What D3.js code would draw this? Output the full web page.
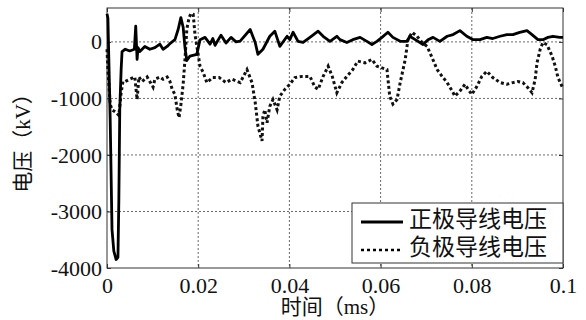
<!DOCTYPE html>
<html>
<head>
<meta charset="utf-8">
<script src="https://cdn.jsdelivr.net/npm/d3@7"></script>
<style>
  body { margin: 0; background: #fff; }
</style>
</head>
<body>
<div id="chart"></div>
<script>
// 正极导线电压 (solid), time in ms, voltage in kV
const posTime = [0, 0.0002, 0.0007, 0.0011, 0.0015, 0.0020, 0.0024, 0.0026, 0.0028, 0.0031,
  0.0033, 0.0040, 0.0050, 0.0060, 0.0063, 0.0066, 0.0068, 0.0072, 0.0083, 0.0094,
  0.0105, 0.0116, 0.0123, 0.0132, 0.0138, 0.0149, 0.0156, 0.0162, 0.0167, 0.0171,
  0.0175, 0.0182, 0.0197, 0.0204, 0.0215, 0.0226, 0.0232, 0.0237, 0.0250, 0.0261,
  0.0272, 0.0283, 0.0292, 0.0314, 0.0325, 0.0331, 0.0342, 0.0357, 0.0368, 0.0379,
  0.0395, 0.0401, 0.0408, 0.0419, 0.0430, 0.0445, 0.0463, 0.0474, 0.0489, 0.0504,
  0.0511, 0.0526, 0.0539, 0.0555, 0.0570, 0.0581, 0.0592, 0.0603, 0.0616, 0.0627,
  0.0643, 0.0658, 0.0664, 0.0676, 0.0693, 0.0704, 0.0715, 0.0730, 0.0746, 0.0759,
  0.0774, 0.0789, 0.0803, 0.0818, 0.0833, 0.0846, 0.0862, 0.0877, 0.0890, 0.0905,
  0.0921, 0.0932, 0.0945, 0.0956, 0.0967, 0.0978, 0.0993, 0.1000];
const posVolt = [500, 420, -1370, -3320, -3700, -3850, -3810, -2790, -1190, -490,
  -170, -130, -160, -130, 280, -310, -100, -170, -80, -130,
  -100, -40, -130, -80, -30, 40, 220, 430, 260, -100,
  -330, -250, -220, 40, 80, -40, 60, -60, 120, -20,
  80, 0, 15, 220, -10, -220, -130, 100, 190, -80,
  100, 40, 170, 10, -10, 80, 190, 100, 10, 100,
  40, -10, 40, 80, 10, -45, 10, 80, 170, 80,
  10, 10, 100, 40, -45, 40, 80, 10, 100, 130,
  200, 100, 40, 40, 80, 60, 100, 130, 130, 170,
  200, 130, 40, 40, 80, 100, 80, 80];

// 负极导线电压 (dotted)
const negTime = [0, 0.0002, 0.0007, 0.0011, 0.0020, 0.0026, 0.0031, 0.0035, 0.0040, 0.0050,
  0.0061, 0.0066, 0.0070, 0.0077, 0.0088, 0.0101, 0.0105, 0.0116, 0.0123, 0.0132,
  0.0138, 0.0143, 0.0149, 0.0154, 0.0158, 0.0162, 0.0167, 0.0171, 0.0175, 0.0180,
  0.0184, 0.0189, 0.0193, 0.0204, 0.0211, 0.0219, 0.0232, 0.0246, 0.0261, 0.0274,
  0.0292, 0.0307, 0.0318, 0.0325, 0.0331, 0.0340, 0.0342, 0.0346, 0.0351, 0.0357,
  0.0364, 0.0373, 0.0379, 0.0390, 0.0401, 0.0412, 0.0428, 0.0445, 0.0456, 0.0463,
  0.0474, 0.0485, 0.0494, 0.0504, 0.0515, 0.0526, 0.0539, 0.0550, 0.0566, 0.0581,
  0.0592, 0.0603, 0.0614, 0.0620, 0.0627, 0.0636, 0.0643, 0.0654, 0.0660, 0.0669,
  0.0680, 0.0691, 0.0702, 0.0713, 0.0724, 0.0735, 0.0746, 0.0757, 0.0763, 0.0774,
  0.0785, 0.0792, 0.0800, 0.0811, 0.0822, 0.0833, 0.0846, 0.0862, 0.0877, 0.0890,
  0.0901, 0.0912, 0.0923, 0.0932, 0.0939, 0.0943, 0.0950, 0.0956, 0.0965, 0.0976,
  0.0983, 0.0989, 0.0998];
const negVolt = [-130, -490, -1100, -1200, -1250, -1300, -900, -700, -700, -660,
  -620, -1020, -620, -700, -620, -800, -660, -620, -660, -620,
  -700, -840, -930, -1200, -1340, -1110, -750, -310, 220, 430,
  500, 490, 130, -430, -540, -720, -630, -630, -720, -660,
  -720, -490, -720, -1070, -1490, -1750, -1320, -1200, -1430, -1140,
  -1020, -1200, -960, -840, -750, -630, -610, -610, -800, -840,
  -610, -430, -610, -900, -720, -610, -490, -340, -370, -310,
  -430, -460, -490, -960, -1100, -1020, -720, -310, 40, 170,
  100, -10, -80, -280, -490, -610, -720, -870, -960, -870,
  -750, -840, -930, -790, -610, -520, -630, -720, -750, -720,
  -700, -720, -810, -900, -660, -370, -130, -10, -50, -250,
  -430, -630, -790];

const xTicks = [0, 0.02, 0.04, 0.06, 0.08, 0.1];
const yTicks = [-4000, -3000, -2000, -1000, 0];
const seriesNames = ['正极导线电压', '负极导线电压'];

const margin = { top: 8, right: 23, bottom: 52, left: 107 };
const width = 586 - margin.left - margin.right;
const height = 320 - margin.top - margin.bottom;
const font = "'Liberation Serif', 'Noto Sans CJK SC', serif";

const svg = d3.select('#chart')
  .append('svg')
  .attr('width', 586)
  .attr('height', 320)
  .append('g')
  .attr('transform', `translate(${margin.left},${margin.top})`);

const x = d3.scaleLinear().domain([0, 0.1]).range([0, width]);
const y = d3.scaleLinear().domain([-4000, 600]).range([height, 0]);

// grid
svg.append('g')
  .selectAll('line')
  .data(xTicks.slice(1, -1))
  .join('line')
  .attr('x1', d => x(d)).attr('x2', d => x(d))
  .attr('y1', 0).attr('y2', height)
  .attr('stroke', '#444').attr('stroke-width', 0.8).attr('stroke-dasharray', '2,2');
svg.append('g')
  .selectAll('line')
  .data(yTicks.slice(1))
  .join('line')
  .attr('x1', 0).attr('x2', width)
  .attr('y1', d => y(d)).attr('y2', d => y(d))
  .attr('stroke', '#444').attr('stroke-width', 0.8).attr('stroke-dasharray', '2,2');

// axes (tick labels in a plain serif face)
const styleTicks = g => g.selectAll('text')
  .attr('font-family', 'Liberation Serif')
  .attr('font-size', 22)
  .attr('fill', '#111');

svg.append('g')
  .attr('transform', `translate(0,${height})`)
  .call(d3.axisBottom(x).tickValues(xTicks).tickFormat(d => String(d))
    .tickSizeInner(-4).tickSizeOuter(0).tickPadding(9))
  .call(styleTicks);
svg.append('g')
  .call(d3.axisLeft(y).tickValues(yTicks).tickFormat(d => String(d))
    .tickSizeInner(-4).tickSizeOuter(0).tickPadding(5))
  .call(styleTicks);
svg.append('g')
  .call(d3.axisTop(x).tickValues(xTicks).tickFormat('').tickSizeInner(-4).tickSizeOuter(0));
svg.append('g')
  .attr('transform', `translate(${width},0)`)
  .call(d3.axisRight(y).tickValues(yTicks).tickFormat('').tickSizeInner(-4).tickSizeOuter(0));

svg.selectAll('.domain').remove();
svg.selectAll('.tick line').attr('stroke', '#333');

// frame
svg.append('rect')
  .attr('width', width).attr('height', height)
  .attr('fill', 'none').attr('stroke', '#333').attr('stroke-width', 1);

// lines
const negData = negTime.map((t, i) => [t, negVolt[i]]);
const posData = posTime.map((t, i) => [t, posVolt[i]]);
const line = d3.line().x(d => x(d[0])).y(d => y(d[1]));

svg.append('path')
  .datum(negData)
  .attr('d', line)
  .attr('fill', 'none')
  .attr('stroke', '#111')
  .attr('stroke-width', 3)
  .attr('stroke-dasharray', '3,2.6');

svg.append('path')
  .datum(posData)
  .attr('d', line)
  .attr('fill', 'none')
  .attr('stroke', '#000')
  .attr('stroke-width', 2.8)
  .attr('stroke-linejoin', 'round');

// axis titles
svg.append('text')
  .attr('x', width / 2)
  .attr('y', 309 - margin.top)
  .attr('text-anchor', 'middle')
  .attr('dominant-baseline', 'middle')
  .attr('font-family', font)
  .attr('font-size', 21)
  .attr('fill', '#111')
  .text('时间（ms）');

svg.append('text')
  .attr('transform', `translate(${25 - margin.left},${height / 2}) rotate(-90)`)
  .attr('text-anchor', 'middle')
  .attr('dominant-baseline', 'middle')
  .attr('font-family', font)
  .attr('font-size', 21)
  .attr('fill', '#111')
  .text('电压（kV）');

// legend
const legend = svg.append('g').attr('transform', `translate(${352 - margin.left},${203 - margin.top})`);
legend.append('rect')
  .attr('width', 211).attr('height', 60)
  .attr('fill', '#fff').attr('stroke', '#333').attr('stroke-width', 1);
seriesNames.forEach((name, i) => {
  const ly = 19 + i * 28;
  legend.append('line')
    .attr('x1', 9).attr('x2', 51)
    .attr('y1', ly).attr('y2', ly)
    .attr('stroke', '#000')
    .attr('stroke-width', i === 0 ? 3 : 2.5)
    .attr('stroke-dasharray', i === 0 ? null : '3,3');
  legend.append('text')
    .attr('x', 57)
    .attr('y', ly)
    .attr('dominant-baseline', 'middle')
    .attr('font-family', font)
    .attr('font-size', 23)
    .attr('fill', '#111')
    .text(name);
});
</script>
</body>
</html>
